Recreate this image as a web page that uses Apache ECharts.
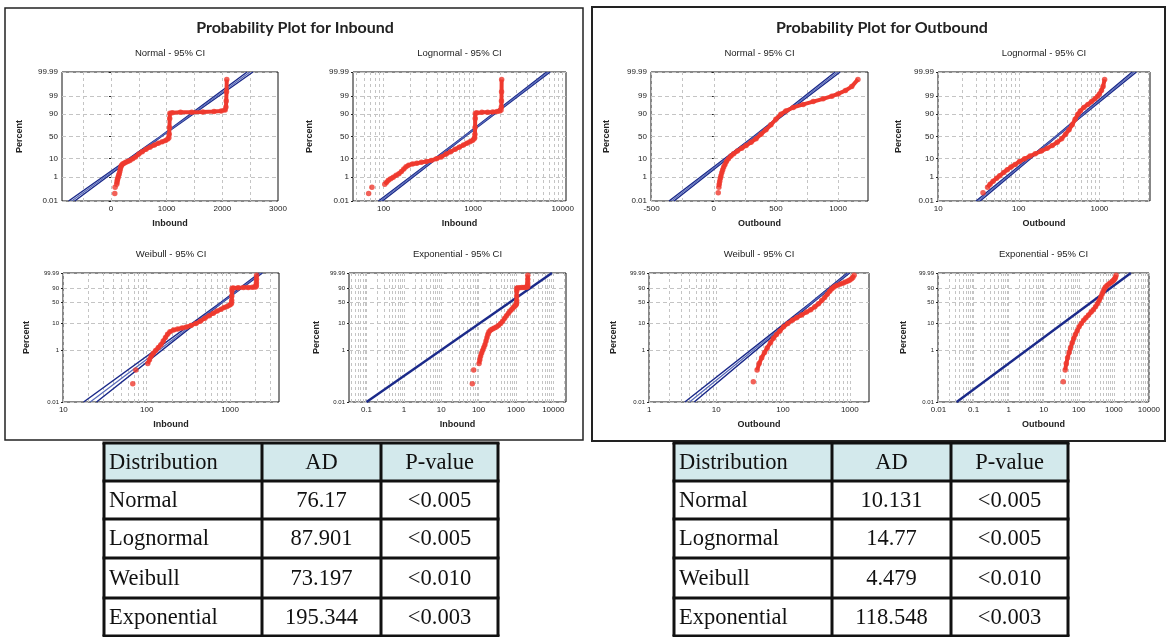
<!DOCTYPE html>
<html>
<head>
<meta charset="utf-8">
<script src="https://cdn.jsdelivr.net/npm/echarts@6/dist/echarts.min.js"></script>
<style>
html, body { margin: 0; padding: 0; background: #fff; }
#chart { width: 1169px; height: 637px; }
</style>
</head>
<body>
<div id="chart"></div>
<script>
// === DATA ===
// observed points, [value, plotted percent]
const inboundPoints = [
    [68, 0.05], [74, 0.17], [103, 0.3], [108, 0.42], [113, 0.58], [120, 0.75], [128, 0.95],
    [138, 1.25], [148, 1.6], [158, 2.2], [168, 3.0], [178, 4.0], [190, 4.9], [210, 5.7],
    [235, 6.2], [265, 6.8], [300, 7.4], [340, 8.4], [390, 10], [440, 12], [500, 15.5],
    [560, 19], [630, 23], [700, 27], [780, 31], [850, 35], [920, 38], [980, 41], [1020, 44],
    [1040, 47], [1046, 55], [1050, 70], [1054, 85], [1058, 91], [1100, 91.5], [1250, 91.8],
    [1450, 92], [1650, 92.2], [1850, 92.6], [1980, 93], [2050, 93.6], [2065, 95.5],
    [2070, 98], [2075, 99.5], [2080, 99.95]
];
const outboundPoints = [
    [36, 0.06], [41, 0.17], [44, 0.3], [48, 0.5], [53, 0.8], [58, 1.2], [65, 1.9], [72, 2.8],
    [80, 3.9], [90, 5.3], [102, 7.5], [118, 10], [138, 13], [160, 16], [190, 20], [225, 25],
    [260, 30], [300, 37], [340, 45], [380, 55], [420, 65], [460, 75], [500, 84], [540, 90],
    [580, 93], [640, 95.3], [720, 96.8], [800, 97.8], [880, 98.5], [950, 99], [1000, 99.3],
    [1060, 99.6], [1110, 99.8], [1160, 99.95]
];
// isolated first points (not joined to the trail)
const inboundIsolated = 2;
const outboundIsolated = 1;

// fitted lines and 95% CI bands, [value, percent]
const inNormalFit = [[-707, 0.01], [2497, 99.99]];
const inNormalCiLo = [[-762, 0.01], [883, 50], [2445, 99.99]];
const inNormalCiHi = [[-652, 0.01], [907, 50], [2550, 99.99]];
const inLogFit = [[92, 0.01], [6918, 99.99]];
const inLogCiLo = [[87.5, 0.01], [782, 50], [6600, 99.99]];
const inLogCiHi = [[97, 0.01], [814, 50], [7250, 99.99]];
const inWeiFit = [[21, 0.01], [2350, 99.99]];
const inWeiCiLo = [[17.5, 0.01], [785, 50], [2250, 99.99]];
const inWeiCiHi = [[25, 0.01], [815, 50], [2450, 99.99]];
const inExpFit = [[0.1, 0.01], [9200, 99.99]];

const outNormalFit = [[-340, 0.01], [997, 99.99]];
const outNormalCiLo = [[-360, 0.01], [320, 50], [977, 99.99]];
const outNormalCiHi = [[-320, 0.01], [336, 50], [1017, 99.99]];
const outLogFit = [[31.3, 0.01], [2710, 99.99]];
const outLogCiLo = [[29.5, 0.01], [285, 50], [2550, 99.99]];
const outLogCiHi = [[33.2, 0.01], [297, 50], [2880, 99.99]];
const outWeiFit = [[4, 0.01], [950, 99.99]];
const outWeiCiLo = [[3.4, 0.01], [268, 50], [910, 99.99]];
const outWeiCiHi = [[4.7, 0.01], [284, 50], [995, 99.99]];
const outExpFit = [[0.033, 0.01], [3050, 99.99]];

// tick labels
const pctTicksNormal = [0.01, 1, 10, 50, 90, 99, 99.99];
const pctTicksWeibull = [0.01, 1, 10, 50, 90, 99.99];
const inNormalTicks = [0, 1000, 2000, 3000];
const inLogTicks = [100, 1000, 10000];
const inWeiTicks = [10, 100, 1000];
const inExpTicks = [0.1, 1, 10, 100, 1000, 10000];
const outNormalTicks = [-500, 0, 500, 1000];
const outLogTicks = [10, 100, 1000];
const outWeiTicks = [1, 10, 100, 1000];
const outExpTicks = [0.01, 0.1, 1, 10, 100, 1000, 10000];

// goodness of fit tables
const tableHeader = ['Distribution', 'AD', 'P-value'];
const distNames = ['Normal', 'Lognormal', 'Weibull', 'Exponential'];
const inboundAD = ['76.17', '87.901', '73.197', '195.344'];
const inboundP = ['<0.005', '<0.005', '<0.010', '<0.003'];
const outboundAD = ['10.131', '14.77', '4.479', '118.548'];
const outboundP = ['<0.005', '<0.005', '<0.010', '<0.003'];

// === PROBABILITY SCALES ===
function probit(p) {
    const a = [-39.69683028665376, 220.9460984245205, -275.9285104469687, 138.3577518672690, -30.66479806614716, 2.506628277459239];
    const b = [-54.47609879822406, 161.5858368580409, -155.6989798598866, 66.80131188771972, -13.28068155288572];
    const c = [-0.007784894002430293, -0.3223964580411365, -2.400758277161838, -2.549732539343734, 4.374664141464968, 2.938163982698783];
    const d = [0.007784695709041462, 0.3224671290700398, 2.445134137142996, 3.754408661907416];
    const pl = 0.02425;
    let q, r;
    if (p < pl) {
        q = Math.sqrt(-2 * Math.log(p));
        return (((((c[0] * q + c[1]) * q + c[2]) * q + c[3]) * q + c[4]) * q + c[5]) / ((((d[0] * q + d[1]) * q + d[2]) * q + d[3]) * q + 1);
    }
    if (p <= 1 - pl) {
        q = p - 0.5; r = q * q;
        return (((((a[0] * r + a[1]) * r + a[2]) * r + a[3]) * r + a[4]) * r + a[5]) * q / (((((b[0] * r + b[1]) * r + b[2]) * r + b[3]) * r + b[4]) * r + 1);
    }
    q = Math.sqrt(-2 * Math.log(1 - p));
    return -(((((c[0] * q + c[1]) * q + c[2]) * q + c[3]) * q + c[4]) * q + c[5]) / ((((d[0] * q + d[1]) * q + d[2]) * q + d[3]) * q + 1);
}
const scaleNormal = pct => probit(pct / 100);
const scaleWeibull = pct => Math.log(-Math.log(1 - pct / 100));

function logGrid(lo, hi) {
    const out = [];
    for (let e = lo; e <= hi; e++) {
        for (let m = 1; m <= 9; m++) out.push(+(m * Math.pow(10, e)).toPrecision(3));
    }
    return out;
}

// === LAYOUT ===
const FONT = 'Liberation Sans, Arial, sans-serif';
const RED = '#ef3a2e';
const NAVY = '#1b2a8a';

const plots = [
    { title: 'Normal - 95% CI', box: [62, 72, 216, 129], log: false, xr: [-880, 3000], ticks: inNormalTicks,
      grid: [-500, 0, 500, 1000, 1500, 2000, 2500], y: 'n', name: 'Inbound', yGap: 38,
      pts: inboundPoints, iso: inboundIsolated, fit: inNormalFit, ci: [inNormalCiLo, inNormalCiHi] },
    { title: 'Lognormal - 95% CI', box: [353, 72, 213, 129], log: true, xr: [45.5, 10880], ticks: inLogTicks,
      grid: logGrid(1, 4), y: 'n', name: 'Inbound', yGap: 39,
      pts: inboundPoints, iso: inboundIsolated, fit: inLogFit, ci: [inLogCiLo, inLogCiHi] },
    { title: 'Weibull - 95% CI', box: [63, 273, 216, 129], log: true, xr: [9.9, 3865], ticks: inWeiTicks,
      grid: logGrid(1, 3), y: 'w', name: 'Inbound', yGap: 32,
      pts: inboundPoints, iso: inboundIsolated, fit: inWeiFit, ci: [inWeiCiLo, inWeiCiHi] },
    { title: 'Exponential - 95% CI', box: [349, 273, 217, 129], log: true, xr: [0.034, 21900], ticks: inExpTicks,
      grid: logGrid(-2, 4), y: 'w', name: 'Inbound', yGap: 28,
      pts: inboundPoints, iso: inboundIsolated, fit: inExpFit, ci: [] },
    { title: 'Normal - 95% CI', box: [651, 72, 217, 129], log: false, xr: [-505, 1241], ticks: outNormalTicks,
      grid: [-500, -250, 0, 250, 500, 750, 1000], y: 'n', name: 'Outbound', yGap: 40,
      pts: outboundPoints, iso: outboundIsolated, fit: outNormalFit, ci: [outNormalCiLo, outNormalCiHi] },
    { title: 'Lognormal - 95% CI', box: [938, 72, 212, 129], log: true, xr: [9.95, 4240], ticks: outLogTicks,
      grid: logGrid(1, 3), y: 'n', name: 'Outbound', yGap: 35,
      pts: outboundPoints, iso: outboundIsolated, fit: outLogFit, ci: [outLogCiLo, outLogCiHi] },
    { title: 'Weibull - 95% CI', box: [649, 273, 220, 129], log: true, xr: [0.99, 1936], ticks: outWeiTicks,
      grid: logGrid(0, 3), y: 'w', name: 'Outbound', yGap: 31,
      pts: outboundPoints, iso: outboundIsolated, fit: outWeiFit, ci: [outWeiCiLo, outWeiCiHi] },
    { title: 'Exponential - 95% CI', box: [938, 273, 211, 129], log: true, xr: [0.0097, 10050], ticks: outExpTicks,
      grid: logGrid(-2, 4), y: 'w', name: 'Outbound', yGap: 30,
      pts: outboundPoints, iso: outboundIsolated, fit: outExpFit, ci: [] }
];

function fmtX(v) {
    return String(+Number(v).toPrecision(6));
}

// === BUILD ===
const grids = [], xAxes = [], yAxes = [], series = [], graphics = [];

plots.forEach((pl, i) => {
    const fy = pl.y === 'n' ? scaleNormal : scaleWeibull;
    const pctTicks = pl.y === 'n' ? pctTicksNormal : pctTicksWeibull;
    const yTicks = pctTicks.map(fy);
    const tf = arr => arr.map(d => [d[0], fy(d[1])]);

    grids.push({ left: pl.box[0], top: pl.box[1], width: pl.box[2], height: pl.box[3],
        show: true, borderColor: '#111', borderWidth: 1, backgroundColor: '#fff' });

    xAxes.push({
        gridIndex: i, type: pl.log ? 'log' : 'value', logBase: 10, min: pl.xr[0], max: pl.xr[1],
        name: pl.name, nameLocation: 'middle', nameGap: 18,
        nameTextStyle: { fontFamily: FONT, fontSize: 9, fontWeight: 'bold', color: '#222' },
        axisLine: { show: false },
        axisTick: { show: false, customValues: pl.grid },
        axisLabel: { customValues: pl.ticks, formatter: fmtX, fontFamily: FONT, fontSize: 8, color: '#222', margin: 4 },
        splitLine: { show: true, lineStyle: { color: '#c4c4c4', width: 1, type: [3, 3] } }
    });

    yAxes.push({
        gridIndex: i, type: 'value', min: fy(0.01), max: fy(99.99),
        name: 'Percent', nameLocation: 'middle', nameGap: pl.yGap, nameRotate: 90,
        nameTextStyle: { fontFamily: FONT, fontSize: 9, fontWeight: 'bold', color: '#222' },
        axisLine: { show: false },
        axisTick: { show: true, length: 2, customValues: yTicks, lineStyle: { color: '#222' } },
        axisLabel: {
            customValues: yTicks, fontFamily: FONT, fontSize: pl.y === 'n' ? 8 : 6, color: '#222', margin: 4,
            formatter: v => {
                let best = 0;
                yTicks.forEach((t, k) => { if (Math.abs(t - v) < Math.abs(yTicks[best] - v)) best = k; });
                return String(pctTicks[best]);
            }
        },
        splitLine: { show: true, lineStyle: { color: '#c4c4c4', width: 1, type: [4, 3] } }
    });

    pl.ci.forEach(band => {
        series.push({ type: 'line', xAxisIndex: i, yAxisIndex: i, data: tf(band), showSymbol: false,
            lineStyle: { color: NAVY, width: 1.5 }, silent: true, z: 2 });
    });
    series.push({ type: 'line', xAxisIndex: i, yAxisIndex: i, data: tf(pl.fit), showSymbol: false,
        lineStyle: { color: pl.ci.length ? '#5668b8' : NAVY, width: pl.ci.length ? 1.2 : 2.4 }, silent: true, z: 2 });
    series.push({ type: 'line', xAxisIndex: i, yAxisIndex: i, data: tf(pl.pts.slice(pl.iso)), showSymbol: false,
        lineStyle: { color: RED, width: 4 }, silent: true, z: 3 });
    series.push({ type: 'scatter', xAxisIndex: i, yAxisIndex: i, data: tf(pl.pts), symbolSize: 5.5,
        itemStyle: { color: RED }, silent: true, z: 4 });

    graphics.push({ type: 'text', style: { text: pl.title, x: pl.box[0] + pl.box[2] / 2, y: pl.box[1] - 19,
        textAlign: 'center', textVerticalAlign: 'middle', font: '9.5px ' + FONT, fill: '#222' } });
});

// panel frames and titles
graphics.push({ type: 'rect', shape: { x: 5, y: 8, width: 578, height: 432 }, style: { fill: null, stroke: '#222', lineWidth: 1.5 } });
graphics.push({ type: 'rect', shape: { x: 592, y: 7, width: 573, height: 434 }, style: { fill: null, stroke: '#222', lineWidth: 2 } });
graphics.push({ type: 'text', style: { text: 'Probability Plot for Inbound', x: 295, y: 28, textAlign: 'center',
    textVerticalAlign: 'middle', font: 'bold 16px Lato, sans-serif', fill: '#222' } });
graphics.push({ type: 'text', style: { text: 'Probability Plot for Outbound', x: 882, y: 28, textAlign: 'center',
    textVerticalAlign: 'middle', font: 'bold 16px Lato, sans-serif', fill: '#222' } });

// tables
const tableRows = [443, 481, 519, 558, 598, 636];
function addTable(cols, ad, pv) {
    graphics.push({ type: 'rect', shape: { x: cols[0], y: tableRows[0], width: cols[3] - cols[0], height: tableRows[1] - tableRows[0] },
        style: { fill: '#d3e9ec' } });
    const cells = [tableHeader].concat(distNames.map((n, k) => [n, ad[k], pv[k]]));
    cells.forEach((row, r) => {
        const yc = (tableRows[r] + tableRows[r + 1]) / 2 + 1;
        row.forEach((txt, c) => {
            const left = c === 0;
            graphics.push({ type: 'text', style: { text: txt, x: left ? cols[0] + 5 : (cols[c] + cols[c + 1]) / 2, y: yc,
                textAlign: left ? 'left' : 'center', textVerticalAlign: 'middle',
                font: '22.5px "Liberation Serif", "Times New Roman", serif', fill: '#111' } });
        });
    });
    tableRows.forEach(y => graphics.push({ type: 'line', shape: { x1: cols[0] - 1.5, y1: y, x2: cols[3] + 1.5, y2: y },
        style: { stroke: '#111', lineWidth: 3 } }));
    cols.forEach(x => graphics.push({ type: 'line', shape: { x1: x, y1: tableRows[0], x2: x, y2: tableRows[tableRows.length - 1] },
        style: { stroke: '#111', lineWidth: 3 } }));
}
addTable([104, 262, 381, 498], inboundAD, inboundP);
addTable([674, 832, 951, 1068], outboundAD, outboundP);

// === RENDER ===
const chart = echarts.init(document.getElementById('chart'), null, { renderer: 'canvas' });
chart.setOption({
    animation: false,
    backgroundColor: '#fff',
    grid: grids,
    xAxis: xAxes,
    yAxis: yAxes,
    series: series,
    graphic: { elements: graphics }
});
</script>
</body>
</html>
